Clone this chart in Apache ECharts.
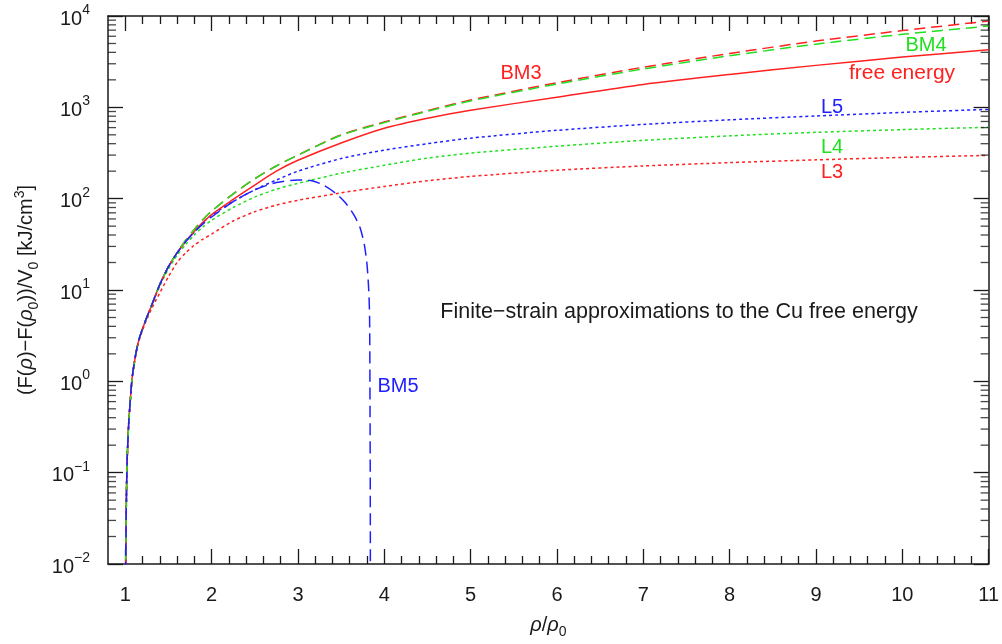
<!DOCTYPE html>
<html>
<head>
<meta charset="utf-8">
<title>Finite-strain approximations, Cu</title>
<script src="https://cdn.jsdelivr.net/npm/echarts@6/dist/echarts.min.js"></script>
<style>
  html, body { margin: 0; padding: 0; background: #fff; }
  #main { width: 1002px; height: 644px; }
</style>
</head>
<body>
<div id="main"></div>
<script>
// density ratio rho/rho0 (shared grid)
var rhoRatio = [1.0, 1.01, 1.02, 1.04, 1.06, 1.08, 1.12, 1.16, 1.23, 1.3, 1.4, 1.5, 1.6, 1.7, 1.8, 1.9,
                2.0, 2.25, 2.5, 2.75, 3.0, 3.5, 4.0, 4.5, 5.0, 6.0, 7.0, 8.0, 9.0, 10.0, 11.0];

// (F(rho)-F(rho0))/V0 in kJ/cm3
var freeEnergy = [0.002, 0.03, 0.12, 0.35, 0.65, 1.1, 1.95, 2.9, 4.5, 6.6, 11.5, 18, 25.5, 34, 44, 55,
                  67, 98, 141, 200, 263, 407, 590, 760, 930, 1290, 1780, 2290, 2880, 3550, 4270];
var bm3 = [0.002, 0.03, 0.12, 0.35, 0.65, 1.1, 1.95, 2.9, 4.5, 6.6, 11.5, 18, 25.5, 35, 46, 59,
           73, 113, 165, 228, 300, 500, 690, 920, 1200, 1860, 2750, 3890, 5310, 6920, 8810];
var bm4 = [0.002, 0.03, 0.12, 0.35, 0.65, 1.1, 1.95, 2.9, 4.5, 6.6, 11.5, 18, 25.5, 35, 46, 59,
           73, 113, 165, 228, 300, 495, 680, 905, 1175, 1800, 2630, 3670, 4920, 6300, 7760];
var l3 = [0.002, 0.03, 0.12, 0.35, 0.64, 1.08, 1.9, 2.8, 4.3, 6.1, 9.3, 14, 20, 25.5, 31, 36,
          41, 57, 72, 85, 96, 116, 136, 157, 175, 205, 228, 248, 266, 283, 298];
var l4 = [0.002, 0.03, 0.12, 0.35, 0.65, 1.1, 1.95, 2.9, 4.5, 6.5, 11, 17, 24, 31.5, 40, 49,
          58, 80, 104, 127, 147, 190, 232, 278, 315, 375, 435, 487, 532, 570, 605];
var l5 = [0.002, 0.03, 0.12, 0.35, 0.65, 1.1, 1.95, 2.9, 4.5, 6.6, 11.5, 18, 25.5, 34, 43, 55,
          66, 93, 125, 160, 200, 275, 340, 400, 460, 560, 650, 730, 805, 880, 950];

// BM5 has its own grid (turns over and dives near rho/rho0 = 3.84)
var rhoBm5 = [1.0, 1.01, 1.02, 1.04, 1.06, 1.08, 1.12, 1.16, 1.23, 1.3, 1.4, 1.5, 1.6, 1.7, 1.8, 1.9,
              2.0, 2.25, 2.5, 2.75, 3.0, 3.15, 3.3, 3.45, 3.55, 3.65, 3.72, 3.77, 3.8, 3.82, 3.83,
              3.835, 3.838, 3.84];
var bm5 = [0.002, 0.03, 0.12, 0.35, 0.65, 1.1, 1.95, 2.9, 4.5, 6.6, 11.5, 18, 25.5, 34, 43, 53,
           63, 93, 125, 150, 160, 158, 140, 112, 90, 66, 48, 31, 19, 10, 5, 0.5, 0.05, 0.001];

// ticks
var xMajor = [1, 2, 3, 4, 5, 6, 7, 8, 9, 10, 11];
var xMinor = [1.2, 1.4, 1.6, 1.8, 2.2, 2.4, 2.6, 2.8, 3.2, 3.4, 3.6, 3.8, 4.2, 4.4, 4.6, 4.8,
              5.2, 5.4, 5.6, 5.8, 6.2, 6.4, 6.6, 6.8, 7.2, 7.4, 7.6, 7.8, 8.2, 8.4, 8.6, 8.8,
              9.2, 9.4, 9.6, 9.8, 10.2, 10.4, 10.6, 10.8];
var decades = [0.01, 0.1, 1, 10, 100, 1000];
var mantissas = [2, 3, 4, 5, 6, 7, 8, 9];

var RED = '#ff2020', GREEN = '#20e020', BLUE = '#2020ff', INK = '#1a1a1a';
var FONT = '"Liberation Sans", Arial, sans-serif';

function pairs(xs, ys) {
  var out = [];
  for (var i = 0; i < xs.length; i++) out.push([xs[i], ys[i]]);
  return out;
}

var yMinor = [];
decades.forEach(function (d) {
  mantissas.forEach(function (m) { yMinor.push(+(d * m).toPrecision(3)); });
});
var leftMinor = yMinor.map(function (v) { return [0.8, v]; });
var rightMinor = yMinor.map(function (v) { return [11, v]; });

function curve(name, xs, ys, color, dash) {
  return {
    name: name, type: 'line', data: pairs(xs, ys),
    xAxisIndex: 0, yAxisIndex: 0,
    showSymbol: false, symbol: 'none', clip: true, silent: true,
    smooth: 0.25,
    lineStyle: { color: color, width: 1.5, type: dash },
    z: 3
  };
}

function tickMarks(data, offset) {
  return {
    type: 'scatter', data: data, xAxisIndex: 0, yAxisIndex: 0,
    symbol: 'rect', symbolSize: [8, 1.3], symbolOffset: offset,
    itemStyle: { color: INK }, clip: false, silent: true, z: 4
  };
}

var lineStyleAxis = { color: INK, width: 1.5 };
var tickStyle = { color: INK, width: 1.3 };

function xAx(pos, ticks, len, labels, lineShow) {
  var ax = {
    type: 'value', position: pos, min: 0.8, max: 11,
    axisLine: { show: lineShow, onZero: false, lineStyle: lineStyleAxis },
    axisTick: { show: true, inside: true, length: len, customValues: ticks, lineStyle: tickStyle },
    axisLabel: { show: false },
    splitLine: { show: false }, minorTick: { show: false }
  };
  if (labels) {
    ax.axisLabel = { show: true, customValues: xMajor, margin: 21, fontSize: 20, color: INK, fontFamily: FONT };
    ax.name = '{i|\u03c1}/{i|\u03c1}{sub|0}';
    ax.nameLocation = 'middle';
    ax.nameGap = 47;
    ax.nameTextStyle = {
      fontSize: 20, fontFamily: FONT, color: INK, lineHeight: 28,
      rich: {
        i: { fontSize: 20, fontStyle: 'italic', fontFamily: FONT, color: INK },
        sub: { fontSize: 14, fontFamily: FONT, color: INK, verticalAlign: 'bottom', lineHeight: 14 }
      }
    };
  }
  return ax;
}

function note(x, y, text, color, size) {
  return { type: 'text', silent: true, style: { x: x, y: y, text: text, fill: color, font: size + 'px ' + FONT, textAlign: 'center', textVerticalAlign: 'middle' } };
}

var myChart = echarts.init(document.getElementById('main'), null, { renderer: 'canvas' });

var option = {
  backgroundColor: '#ffffff',
  animation: false,
  grid: { left: 108, right: 8, top: 16, bottom: 77 },
  xAxis: [
    xAx('bottom', xMajor, 15, true, true),
    xAx('bottom', xMinor, 8, false, false),
    xAx('top', xMajor, 15, false, true),
    xAx('top', xMinor, 8, false, false)
  ],
  yAxis: [
    {
      type: 'log', logBase: 10, min: 0.01, max: 10000, position: 'left',
      axisLine: { show: true, onZero: false, lineStyle: lineStyleAxis },
      axisTick: { show: true, inside: true, length: 15, lineStyle: tickStyle },
      minorTick: { show: false }, splitLine: { show: false },
      axisLabel: {
        margin: 18,
        formatter: function (v) {
          var e = Math.round(Math.log(v) / Math.LN10);
          return '{b|10}{s|' + (e < 0 ? '\u2212' + (-e) : e) + '}';
        },
        rich: {
          b: { fontSize: 20, fontFamily: FONT, color: INK, lineHeight: 26, verticalAlign: 'bottom' },
          s: { fontSize: 14, fontFamily: FONT, color: INK, lineHeight: 14, verticalAlign: 'top' }
        }
      },
      name: '(F({i|\u03c1})\u2212F({i|\u03c1}{sub|0}))/V{sub|0} [kJ/cm{sup|3}]',
      nameLocation: 'middle', nameRotate: 90, nameGap: 66,
      nameTextStyle: {
        fontSize: 20, fontFamily: FONT, color: INK, lineHeight: 28,
        rich: {
          i: { fontSize: 20, fontStyle: 'italic', fontFamily: FONT, color: INK },
          sub: { fontSize: 14, fontFamily: FONT, color: INK, verticalAlign: 'bottom', lineHeight: 14 },
          sup: { fontSize: 14, fontFamily: FONT, color: INK, verticalAlign: 'top', lineHeight: 14 }
        }
      }
    },
    {
      type: 'log', logBase: 10, min: 0.01, max: 10000, position: 'right',
      axisLine: { show: true, onZero: false, lineStyle: lineStyleAxis },
      axisTick: { show: true, inside: true, length: 15, lineStyle: tickStyle },
      minorTick: { show: false }, splitLine: { show: false },
      axisLabel: { show: false }
    }
  ],
  graphic: [
    note(521, 73, 'BM3', RED, 20),
    note(926, 45, 'BM4', GREEN, 20),
    note(902, 73, 'free energy', RED, 21),
    note(832, 107, 'L5', BLUE, 20),
    note(832, 147, 'L4', GREEN, 20),
    note(832, 172, 'L3', RED, 20),
    note(398, 386, 'BM5', BLUE, 20),
    note(679, 312, 'Finite\u2212strain approximations to the Cu free energy', INK, 21.5)
  ],
  series: [
    curve('L3', rhoRatio, l3, RED, [3, 3]),
    curve('L4', rhoRatio, l4, GREEN, [3, 3]),
    curve('L5', rhoRatio, l5, BLUE, [3, 3]),
    curve('free energy', rhoRatio, freeEnergy, RED, 'solid'),
    curve('BM3', rhoRatio, bm3, RED, [11, 6]),
    curve('BM4', rhoRatio, bm4, GREEN, [11, 6]),
    curve('BM5', rhoBm5, bm5, BLUE, [12, 6]),
    tickMarks(leftMinor, [4, 0]),
    tickMarks(rightMinor, [-4, 0])
  ]
};

myChart.setOption(option);
</script>
</body>
</html>
